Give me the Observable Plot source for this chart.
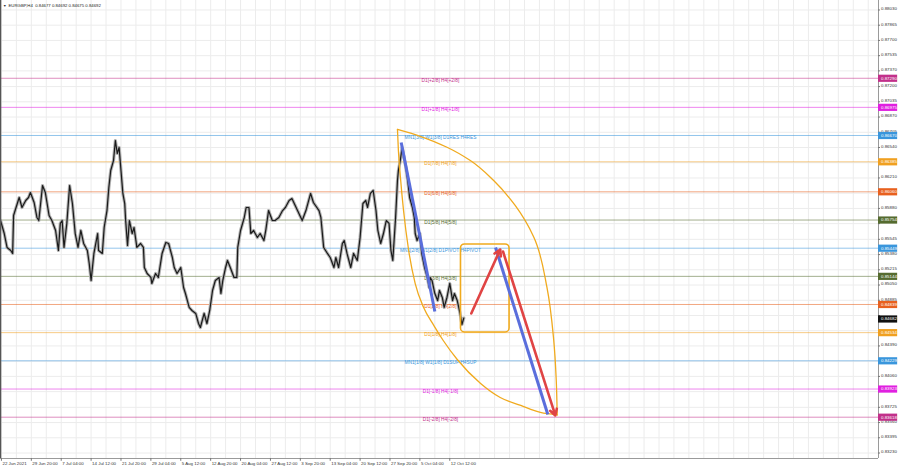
<!DOCTYPE html>
<html><head><meta charset="utf-8">
<script src="https://cdn.jsdelivr.net/npm/d3@7"></script>
<script src="https://cdn.jsdelivr.net/npm/@observablehq/plot@0.6"></script>
<style>html,body{margin:0;padding:0;background:#fff;overflow:hidden}</style>
</head><body><div id="chart"></div>
<script>
const title = "EURGBP,H4  0.84677 0.84692 0.84675 0.84692";

// H4 bar index (from the left edge) and close price
const bars = [0,4,7,11,13,14,20,23,27,30,
  32,36,39,41,45,48,52,55,59,62,
  64,66,68,71,74,77,80,83,86,89,
  93,95,97,100,104,105,109,111,114,116,
  118,121,123,125,127,129,131,133,134,136,
  138,141,143,146,150,153,154,157,161,162,
  166,169,173,177,180,184,186,189,193,196,
  198,202,205,209,212,214,218,221,224,227,
  230,234,236,238,241,243,246,250,253,254,
  257,261,263,266,268,271,275,278,282,284,
  287,291,294,298,302,305,309,312,318,323,
  327,332,335,341,343,346,350,353,357,359,
  362,366,368,371,375,378,382,385,388,391,
  393,396,399,402,404,407,410,413,416,418,
  420,423,425,426,428,430,432,434,436,438,
  441,443,444,446,449,451,454,457,459,460,
  462,465,468,470,473,475,478,481,484,486,
  489,492,494,496];
const closes = [0.85749,0.85608,0.85457,0.85424,0.85392,0.85803,0.85998,0.85890,0.85966,0.85998,
  0.86052,0.85944,0.85782,0.85749,0.86128,0.86052,0.85803,0.85749,0.85641,0.85424,
  0.85717,0.85749,0.85457,0.85717,0.86128,0.85933,0.85608,0.85457,0.85641,0.85500,
  0.85424,0.85283,0.85099,0.85392,0.85608,0.85424,0.85392,0.85673,0.85857,0.86107,
  0.86291,0.86399,0.86616,0.86475,0.86540,0.86291,0.86042,0.85933,0.85749,0.85478,
  0.85749,0.85608,0.85673,0.85457,0.85500,0.85457,0.85240,0.85175,0.85132,0.85067,
  0.85175,0.85132,0.85392,0.85511,0.85500,0.85348,0.85240,0.85175,0.85240,0.85023,
  0.84958,0.84807,0.84774,0.84742,0.84633,0.84590,0.84742,0.84633,0.84774,0.84991,
  0.85099,0.85132,0.84958,0.85099,0.85240,0.85316,0.85240,0.85132,0.85132,0.85457,
  0.85641,0.85782,0.85890,0.85890,0.85608,0.85641,0.85565,0.85608,0.85532,0.85641,
  0.85857,0.85749,0.85749,0.85782,0.85857,0.85890,0.85966,0.85987,0.85857,0.85749,
  0.85857,0.86042,0.85944,0.85857,0.85782,0.85457,0.85392,0.85348,0.85240,0.85348,
  0.85240,0.85500,0.85532,0.85392,0.85240,0.85392,0.85316,0.85565,0.85933,0.85966,
  0.85890,0.86042,0.86074,0.85857,0.85641,0.85500,0.85608,0.85749,0.85717,0.85424,
  0.85316,0.85782,0.86182,0.86291,0.86399,0.86540,0.86432,0.86323,0.86182,0.85998,
  0.85890,0.85782,0.85608,0.85532,0.85608,0.85392,0.85240,0.85132,0.85023,0.85132,
  0.85099,0.84958,0.84882,0.84991,0.84915,0.84807,0.84915,0.85067,0.84882,0.84958,
  0.84882,0.84742,0.84622,0.84692];

// Murrey-style levels
const levelPrices = [0.87290,0.86975,0.86670,0.86385,0.86060,0.85754,0.85449,0.85144,0.84839,0.84534,0.84229,0.83923,0.83618];
const levelNames = ["D1[+2/8] H4[+2/8]","D1[+1/8] H4[+1/8]","MN1[3/8] W1[3/8] D1RES H4RES","D1[7/8] H4[7/8]","D1[6/8] H4[6/8]","D1[5/8] H4[5/8]","MN1[2/8] W1[2/8] D1PIVOT H4PIVOT","D1[3/8] H4[3/8]","D1[2/8] H4[2/8]","D1[1/8] H4[1/8]","MN1[1/8] W1[1/8] D1SUP H4SUP","D1[-1/8] H4[-1/8]","D1[-2/8] H4[-2/8]"];
const levelColors = ["#c2308a","#e020e0","#3a96dc","#f0a020","#e8601e","#556b2f","#3a96dc","#556b2f","#e8601e","#f0a020","#3a96dc","#e020e0","#c2308a"];
const currentPrice = 0.84682;

// right axis: grid ticks and the labels left visible beside the tags
const priceTicks = [0.88030,0.87865,0.87700,0.87535,0.87370,0.87200,0.87035,0.86870,0.86705,0.86540,0.86375,0.86210,0.86045,0.85880,0.85715,0.85545,0.85380,0.85215,0.85050,0.84885,0.84720,0.84555,0.84390,0.84225,0.84060,0.83895,0.83725,0.83560,0.83395,0.83230];
const priceTickLabels = [0.88030,0.87865,0.87700,0.87535,0.87370,0.87200,0.87035,0.86870,0.86705,0.86540,0.86210,0.85880,0.85545,0.85380,0.85215,0.85050,0.84885,0.84390,0.84060,0.83725,0.83560,0.83395,0.83230];
// time axis
const dateLabels = ["22 Jun 2021","29 Jun 20:00","7 Jul 04:00","14 Jul 12:00","21 Jul 20:00","29 Jul 04:00","5 Aug 12:00","12 Aug 20:00","20 Aug 04:00","27 Aug 12:00","3 Sep 20:00","13 Sep 04:00","20 Sep 12:00","27 Sep 20:00","5 Oct 04:00","12 Oct 12:00"];
const dateBars = [1,33,65,97,129,161,193,225,257,289,321,353,385,417,449,481];

// drawings
const outerArcBars = [425,450,478,503,528,551,571,585,592,595,596];
const outerArcPrices = [0.86735,0.86659,0.86543,0.86399,0.86182,0.85912,0.85568,0.85026,0.84485,0.84016,0.83643];
const innerArcBars = [425,426,428,431.5,437,444,453,464,474,489,514,535,557,578,596];
const innerArcPrices = [0.86735,0.86507,0.86237,0.85857,0.85424,0.85066,0.84806,0.84611,0.84449,0.84243,0.83983,0.83831,0.83745,0.83669,0.83643];
const boxBars = [493,545];
const boxPrices = [0.84536,0.85489];
const blueX1 = [429,530], blueY1 = [0.86594,0.85457], blueX2 = [465,586], blueY2 = [0.84763,0.83647];
const redX1 = [504,538], redY1 = [0.84742,0.85413], redX2 = [535,594], redY2 = [0.85435,0.83637];

const xMax = 940;
const yLo = 0.831705, yHi = 0.881326;
const orange = "#f0aa1e";

const levels = levelPrices.map((p,i)=>({price:p,name:levelNames[i],color:levelColors[i]}));
const candles = bars.map((b,i)=>({bar:b,close:closes[i]}));
const outerArc = outerArcBars.map((b,i)=>({bar:b,price:outerArcPrices[i]}));
const innerArc = innerArcBars.map((b,i)=>({bar:b,price:innerArcPrices[i]}));
const blue = blueX1.map((x,i)=>({x1:x,y1:blueY1[i],x2:blueX2[i],y2:blueY2[i]}));
const red = redX1.map((x,i)=>({x1:x,y1:redY1[i],x2:redX2[i],y2:redY2[i]}));
const gridBars = d3.range(1, xMax, 16);
const labelBar = 471;
const fs = 4.4;

const chart = Plot.plot({
  width: 900, height: 468,
  marginTop: 0, marginRight: 22, marginBottom: 10, marginLeft: 0,
  x: {domain: [0, xMax], axis: null},
  y: {domain: [yLo, yHi], axis: null},
  color: {type: "identity"},
  style: {background: "#fff", fontFamily: "'Liberation Sans', Arial, sans-serif", overflow: "visible"},
  marks: [
    Plot.ruleX(gridBars, {stroke: "#ececec"}),
    Plot.ruleY(priceTicks, {stroke: "#ececec"}),
    Plot.ruleY(levels, {y: "price", stroke: "color", strokeOpacity: 0.55}),
    Plot.text(levels, {x: () => labelBar, y: "price", text: "name", fill: "color", dy: 2, fontSize: 4.8}),
    Plot.line(candles, {x: "bar", y: "close", stroke: "#b0b0b0", strokeWidth: 3.2}),
    Plot.line(candles, {x: "bar", y: "close", stroke: "#1a1a1a", strokeWidth: 1.2}),
    Plot.line(outerArc, {x: "bar", y: "price", curve: "monotone-y", stroke: orange, strokeWidth: 1.3}),
    Plot.line(innerArc, {x: "bar", y: "price", curve: "monotone-x", stroke: orange, strokeWidth: 1.3}),
    Plot.rect([0], {x1: () => boxBars[0], x2: () => boxBars[1], y1: () => boxPrices[0], y2: () => boxPrices[1], stroke: orange, fill: "none", strokeWidth: 1.6, rx: 4}),
    Plot.link(blue, {x1: "x1", y1: "y1", x2: "x2", y2: "y2", stroke: "#5a6edc", strokeWidth: 3}),
    Plot.arrow(red, {x1: "x1", y1: "y1", x2: "x2", y2: "y2", stroke: "#e04444", strokeWidth: 2.6, headLength: 4}),
    // frame
    Plot.ruleX([0], {stroke: "#555", strokeWidth: 1.5}),
    Plot.ruleX([xMax], {stroke: "#9a9a9a"}),
    Plot.ruleY([yLo], {stroke: "#9a9a9a"}),
    // right axis
    Plot.ruleY(priceTicks, {x1: () => xMax, x2: () => xMax + 2.2, stroke: "#777"}),
    Plot.text(priceTickLabels, {x: () => xMax, y: d => d, text: d => d.toFixed(5), dx: 2.5, dy: -1, textAnchor: "start", fill: "#333", fontSize: fs}),
    Plot.ruleY(levels, {y: "price", x1: () => xMax, x2: () => xMax + 20.5, stroke: "color", strokeWidth: 7.2}),
    Plot.text(levels, {x: () => xMax, y: "price", text: d => d.price.toFixed(5), dx: 2.5, textAnchor: "start", fill: "#fff", fontSize: fs}),
    Plot.ruleY([currentPrice], {x1: () => xMax, x2: () => xMax + 20.5, stroke: "#111", strokeWidth: 7.2}),
    Plot.text([currentPrice], {x: () => xMax, y: d => d, text: d => d.toFixed(5), dx: 2.5, textAnchor: "start", fill: "#fff", fontSize: fs}),
    // time axis
    Plot.ruleX(dateBars, {y1: () => yLo, y2: () => yLo - 0.0003, stroke: "#777"}),
    Plot.text(dateBars, {x: d => d, y: () => yLo, text: (d, i) => dateLabels[i], dx: 1, dy: 5.5, textAnchor: "start", fill: "#333", fontSize: fs}),
    // title
    Plot.text(["\u25BC"], {frameAnchor: "top-left", dx: 2.5, dy: 3.5, textAnchor: "start", lineAnchor: "top", fontSize: 3.6, fill: "#333"}),
    Plot.text([title], {frameAnchor: "top-left", dx: 8, dy: 3.5, textAnchor: "start", lineAnchor: "top", fontSize: 4.3, fill: "#222"})
  ]
});
document.getElementById("chart").appendChild(chart);
</script>
</body></html>
